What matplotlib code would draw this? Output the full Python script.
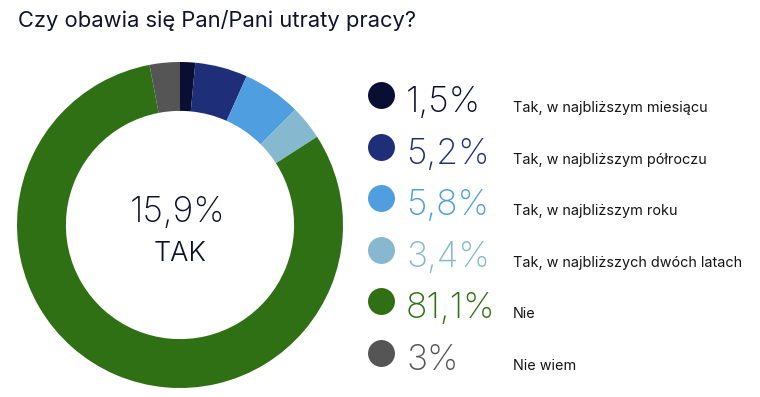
import matplotlib
matplotlib.use("Agg")
import matplotlib.pyplot as plt

title = "Czy obawia się Pan/Pani utraty pracy?"
categories = ["Tak, w najbliższym miesiącu", "Tak, w najbliższym półroczu",
              "Tak, w najbliższym roku", "Tak, w najbliższych dwóch latach",
              "Nie", "Nie wiem"]
values = [1.5, 5.2, 5.8, 3.4, 81.1, 3.0]
value_labels = ["1,5%", "5,2%", "5,8%", "3,4%", "81,1%", "3%"]
center_value = "15,9%"
center_label = "TAK"
colors = ["#0a0e33", "#1f2e78", "#4f9ee0", "#86b9cf", "#2e7013", "#555555"]

W, H = 760, 397
fig = plt.figure(figsize=(W / 100, H / 100), dpi=100)

# donut
cx, cy, R = 180, 225, 163
ax = fig.add_axes([(cx - R) / W, (H - cy - R) / H, 2 * R / W, 2 * R / H])
ax.pie(values, colors=colors, startangle=90, counterclock=False,
       wedgeprops=dict(width=0.30, linewidth=0), radius=1)
ax.set_xlim(-1, 1)
ax.set_ylim(-1, 1)
ax.set_aspect("equal")
ax.axis("off")

# overlay in pixel coords
ov = fig.add_axes([0, 0, 1, 1])
ov.set_xlim(0, W)
ov.set_ylim(H, 0)
ov.axis("off")

ov.text(18, 27, title, fontsize=15.8, family="Inter", fontweight=400,
        color="#10122e", va="baseline", ha="left")

ov.text(178, 222, center_value, fontsize=25.5, family="Inter", fontweight=200,
        color="#0d1030", ha="center", va="baseline")
ov.text(180, 261, center_label, fontsize=19.5, family="Inter", fontweight=300,
        color="#0d1030", ha="center", va="baseline")

step = 51.6
for i, (cat, lab, col) in enumerate(zip(categories, value_labels, colors)):
    base = 112 + i * step
    ov.scatter([381], [base - 17], s=19.4 ** 2, color=col, linewidths=0)
    ov.text(406, base, lab, fontsize=25.5, family="Inter", fontweight=200,
            color=col, ha="left", va="baseline")
    ov.text(513, base, cat, fontsize=10.4, family="Inter", fontweight=400,
            color="#151515", ha="left", va="baseline")

fig.savefig("out.png", dpi=100)
